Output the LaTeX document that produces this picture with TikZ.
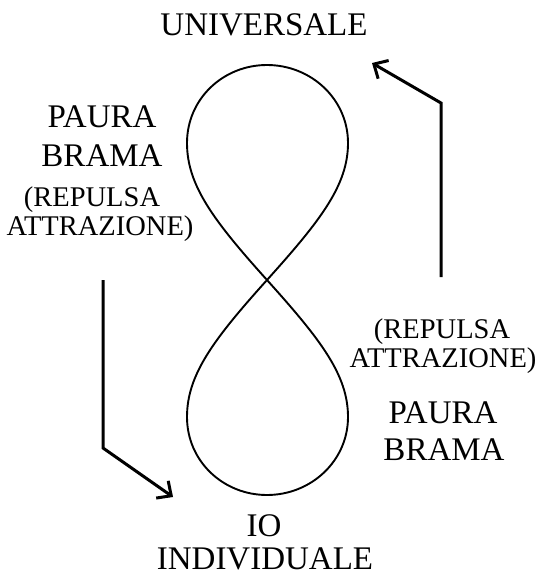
\documentclass[tikz,border=0pt]{standalone}
\usepackage{fontspec}
\setmainfont{Liberation Serif}
\usetikzlibrary{arrows.meta}
\begin{document}
\begin{tikzpicture}[x=1pt,y=-1pt,
  big/.style={font=\fontsize{33}{36}\selectfont,anchor=base,inner sep=0pt},
  small/.style={font=\fontsize{28.5}{30}\selectfont,anchor=base,inner sep=0pt},
  eight/.style={line width=1.9pt},
  arr/.style={line width=3pt,-{Straight Barb[length=11pt,width=21pt,line width=3pt]}}]
\useasboundingbox (0,0) rectangle (536,577);
% figure eight
\coordinate (C) at (267,280);
\draw[eight] (C) .. controls (213,220) and (187,185) .. (187,143)
  .. controls (187,99) and (223,65) .. (267,65)
  .. controls (311,65) and (348,99) .. (348,143)
  .. controls (348,185) and (321,220) .. (C)
  .. controls (321,340) and (348,375) .. (348,417)
  .. controls (348,461) and (311,495) .. (267,495)
  .. controls (223,495) and (187,461) .. (187,417)
  .. controls (187,375) and (213,340) .. (C);
% texts
\node[big] (univ) at (264,36) {UNIVERSALE};
\node[big] (lpaura) at (102,128) {PAURA};
\node[big] (lbrama) at (102,167) {BRAMA};
\node[small] (lrep) at (92,207) {(REPULSA};
\node[small] (latt) at (100,235) {ATTRAZIONE)};
\node[small] (rrep) at (442,338) {(REPULSA};
\node[small] (ratt) at (443,367) {ATTRAZIONE)};
\node[big] (rpaura) at (443,423) {PAURA};
\node[big] (rbrama) at (444,460) {BRAMA};
\node[big] (io) at (264,536) {IO};
\node[big] (indiv) at (265,569) {INDIVIDUALE};
% arrows
\coordinate (r1) at (441,277);
\coordinate (r2) at (441,103);
\coordinate (r3) at (372,63);
\draw[arr] (r1) -- (r2) -- (r3);
\coordinate (l1) at (103,280);
\coordinate (l2) at (103,448);
\coordinate (l3) at (173,497);
\draw[arr] (l1) -- (l2) -- (l3);
\end{tikzpicture}
\end{document}
